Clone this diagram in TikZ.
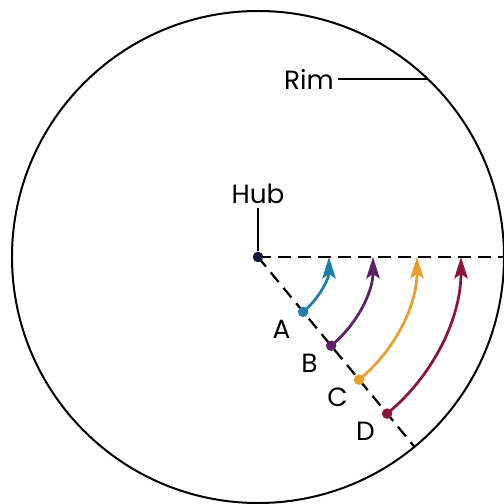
\documentclass[tikz,border=0pt]{standalone}
\usepackage{fontspec}
\usepackage{tikz}
\usetikzlibrary{positioning, arrows.meta, calc}
\setmainfont{Poppins}
\definecolor{cHub}{HTML}{15143A}
\definecolor{cA}  {HTML}{1F7FA8}
\definecolor{cB}  {HTML}{5E1F66}
\definecolor{cC}  {HTML}{E89E2C}
\definecolor{cD}  {HTML}{8C1539}

\begin{document}
\begin{tikzpicture}[
    dot/.style={circle, fill=#1, inner sep=0pt, minimum size=2.1mm},
    spin/.style={#1, line width=0.55mm, -{Stealth[length=4.3mm, width=2.7mm, inset=0.9mm]}},
    lbl/.style={font=\fontsize{15}{17}\selectfont, inner sep=0.8mm},
    guide/.style={line width=0.45mm, dash pattern=on 2.5mm off 1.5mm},
  ]
  \useasboundingbox (-51.6mm, -49.4mm) rectangle (49.2mm, 51.4mm);
  % disk and the two radii
  \draw[line width=0.4mm] (0, 0) circle (49.2mm);
  \coordinate (centre) at (0, 0);
  \coordinate (rimright) at (49.2mm, 0);
  \coordinate (rimlow) at (-50.5:49.2mm);
  \draw[guide] (centre) -- (rimright);
  \draw[guide] (centre) -- (rimlow);
  \node[dot=cHub] (hub) at (centre) {};
  % points on the turning radius
  \foreach \n/\r/\c in {A/14.2/cA, B/23.0/cB, C/31.8/cC, D/40.6/cD} {
    \node[dot=\c] (\n) at (-50.5:\r mm) {};
    \draw[spin=\c] (\n.center) arc[start angle=-50.5, end angle=0, radius=\r mm];
    \node[lbl] (lab\n) at ($(\n)+(-140.5:5.6mm)$) {\n};
  }
  % labels
  \node[lbl, above=8.6mm of hub] (hublab) {Hub};
  \draw[line width=0.38mm] (hub) -- (hublab);
  \node[lbl] (rimlab) at (10.2mm, 35.6mm) {Rim};
  \coordinate (rimhit) at (33.96mm, 35.6mm);
  \draw[line width=0.35mm] (rimlab) -- (rimhit);
\end{tikzpicture}
\end{document}
